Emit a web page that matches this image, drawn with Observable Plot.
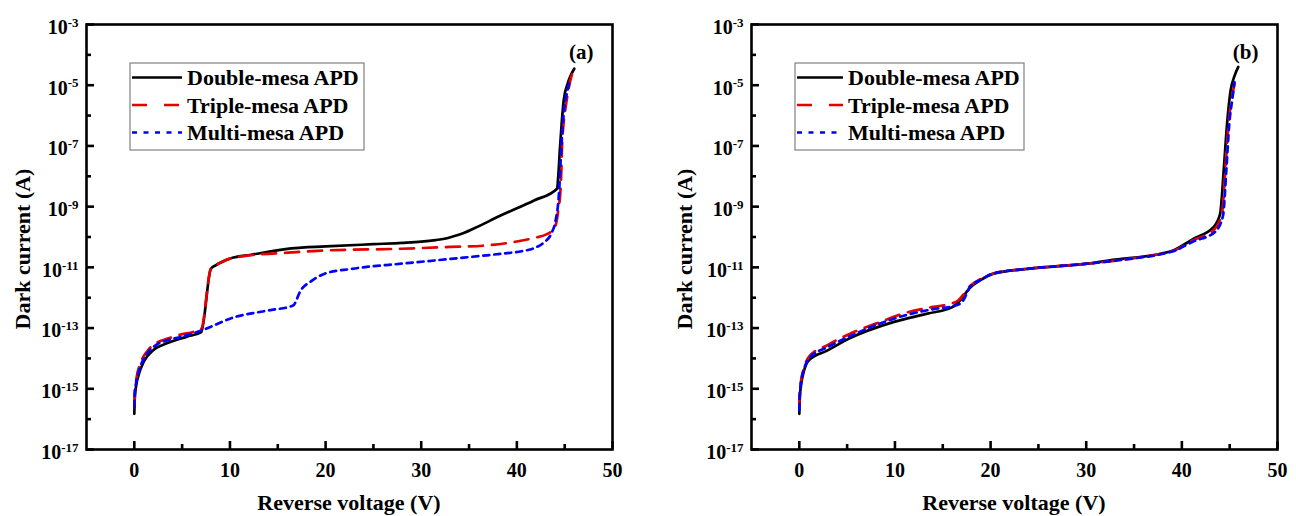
<!DOCTYPE html>
<html><head><meta charset="utf-8">
<script src="https://cdn.jsdelivr.net/npm/d3@7"></script>
<script src="https://cdn.jsdelivr.net/npm/@observablehq/plot@0.6"></script>
<style>
html,body{margin:0;padding:0;background:#fff;}
#wrap{position:relative;width:1296px;height:516px;overflow:hidden;background:#fff;}
.panel{position:absolute;top:0;}
</style></head><body><div id="wrap"></div>
<script>
// ---------- shared labels / ticks ----------
const seriesNames = ["Double-mesa APD", "Triple-mesa APD", "Multi-mesa APD"];
const seriesColors = ["#000000", "#e60000", "#0000ff"];
const seriesDash = [null, "14,9", "6,5"];
const legendDash = [null, "15,17", "5,6.5"];
const xTicks = [0, 10, 20, 30, 40, 50];
const xMinor = [5, 15, 25, 35, 45];
const yTicks = [1e-17, 1e-15, 1e-13, 1e-11, 1e-9, 1e-7, 1e-5, 1e-3];
const yMinor = [1e-16, 1e-14, 1e-12, 1e-10, 1e-8, 1e-6, 1e-4];
const xTitle = "Reverse voltage (V)";
const yTitle = "Dark current (A)";
const panelTags = ["(a)", "(b)"];

// ---------- panel (a) ----------
const aDoubleV = [0, 0.05, 0.2, 0.5, 1.0, 2.0, 3.0, 4.2, 5.5, 7.0, 8.0, 8.5, 9.1, 10.1, 12.2, 16.4, 20, 25, 28, 30, 31.5, 32.8, 34, 35.5, 38.3, 41.8, 44.2, 44.35, 44.5, 44.7, 44.9, 45.3, 45.6, 46.0];
const aDoubleI = [1.5e-16, 5.0e-16, 1.3e-15, 3.2e-15, 7.9e-15, 1.9e-14, 2.8e-14, 3.9e-14, 5.2e-14, 7.4e-14, 8.9e-12, 1.17e-11, 1.48e-11, 2.0e-11, 2.6e-11, 4.2e-11, 4.9e-11, 5.8e-11, 6.4e-11, 7.0e-11, 7.9e-11, 9.3e-11, 1.2e-10, 1.9e-10, 5.1e-10, 1.6e-9, 3.9e-9, 1.26e-8, 7.9e-8, 6.3e-7, 3.2e-6, 1.1e-5, 2.0e-5, 3.5e-5];
const aTripleV = [0, 0.05, 0.2, 0.6, 1.4, 2.5, 3.5, 4.6, 7.0, 8.0, 8.5, 9.1, 10.1, 12.2, 16.4, 20, 27.9, 33, 36.6, 40, 41.8, 43.2, 44.0, 44.3, 44.6, 44.75, 44.9, 45.1, 45.6, 45.8];
const aTripleI = [3.2e-16, 6.3e-16, 2.0e-15, 6.3e-15, 1.8e-14, 3.5e-14, 4.5e-14, 5.8e-14, 9.5e-14, 8.9e-12, 1.17e-11, 1.48e-11, 2.0e-11, 2.5e-11, 3.1e-11, 3.6e-11, 4.1e-11, 4.7e-11, 5.2e-11, 7.1e-11, 9.3e-11, 1.26e-10, 2.2e-10, 6.5e-10, 5.6e-9, 1.5e-7, 6.3e-7, 1.9e-6, 1.45e-5, 2.5e-5];
const aMultiV = [0, 0.05, 0.2, 0.6, 1.2, 2.3, 3.5, 5.0, 7.0, 10.5, 14.0, 16.6, 17.4, 18.5, 19.9, 22.7, 27.9, 33.1, 38.3, 40.5, 41.8, 42.8, 43.6, 44.05, 44.4, 44.65, 44.9, 45.3, 45.6];
const aMultiI = [2.5e-16, 7.9e-16, 1.6e-15, 5.0e-15, 1.26e-14, 2.8e-14, 4.0e-14, 5.2e-14, 8.3e-14, 2.3e-13, 3.8e-13, 5.5e-13, 1.74e-12, 3.5e-12, 6.2e-12, 8.9e-12, 1.32e-11, 1.9e-11, 2.8e-11, 3.4e-11, 4.3e-11, 6.5e-11, 1.3e-10, 3.5e-10, 2.6e-9, 9.1e-8, 1.15e-6, 6.8e-6, 1.6e-5];

// ---------- panel (b) ----------
const bDoubleV = [0, 0.05, 0.2, 0.5, 0.97, 2.9, 5.2, 9.9, 13.4, 16.0, 16.8, 17.9, 18.9, 20.3, 23.8, 30.1, 33.0, 37.8, 39.1, 41.2, 43.3, 44.0, 44.4, 44.7, 45.1, 45.5, 45.9];
const bDoubleI = [1.5e-16, 5.0e-16, 1.45e-15, 4.0e-15, 8.5e-15, 1.8e-14, 4.5e-14, 1.6e-13, 3.0e-13, 4.9e-13, 8.1e-13, 2.2e-12, 3.7e-12, 6.2e-12, 8.9e-12, 1.32e-11, 1.8e-11, 2.8e-11, 3.6e-11, 8.7e-11, 2.1e-10, 5.8e-10, 2.0e-8, 4.2e-7, 6.8e-6, 2.0e-5, 4.0e-5];
const bTripleV = [0, 0.05, 0.2, 0.5, 1.0, 3.0, 5.2, 8.0, 11.3, 14.0, 15.8, 16.6, 17.9, 18.9, 20.3, 23.8, 30.1, 34.3, 37.8, 39.1, 41.2, 43.4, 44.2, 44.6, 44.9, 45.3, 45.6];
const bTripleI = [2.5e-16, 7.9e-16, 2.0e-15, 5.0e-15, 1.12e-14, 2.8e-14, 6.3e-14, 1.4e-13, 3.3e-13, 5.0e-13, 6.3e-13, 8.1e-13, 2.5e-12, 4.0e-12, 6.3e-12, 8.9e-12, 1.32e-11, 1.86e-11, 2.8e-11, 3.5e-11, 7.9e-11, 1.78e-10, 6.3e-10, 3.2e-8, 6.3e-7, 5.0e-6, 1.6e-5];
const bMultiV = [0, 0.05, 0.2, 0.5, 1.0, 3.0, 5.2, 8.0, 11.0, 14.0, 16.2, 17.0, 17.9, 18.9, 20.3, 23.8, 30.1, 34.3, 37.8, 39.1, 41.2, 43.5, 44.3, 44.65, 44.95, 45.3, 45.5];
const bMultiI = [2.0e-16, 6.3e-16, 1.78e-15, 4.5e-15, 1.0e-14, 2.4e-14, 5.2e-14, 1.26e-13, 2.6e-13, 4.2e-13, 5.4e-13, 7.1e-13, 2.4e-12, 3.8e-12, 6.3e-12, 8.9e-12, 1.32e-11, 1.86e-11, 2.7e-11, 3.4e-11, 7.1e-11, 1.5e-10, 5.0e-10, 1.6e-8, 5.0e-7, 4.0e-6, 1.26e-5];

function rows(V, I) { return V.map((v, i) => ({V: v, I: I[i]})); }

const panels = [
  {tag: panelTags[0], left: 0, marginLeft: 86, marginRight: 36, yTitleX: 22, legendW: 234, lineLen: 50,
   series: [rows(aDoubleV, aDoubleI), rows(aTripleV, aTripleI), rows(aMultiV, aMultiI)]},
  {tag: panelTags[1], left: 648, marginLeft: 103, marginRight: 19, yTitleX: 36, legendW: 229, lineLen: 46,
   series: [rows(bDoubleV, bDoubleI), rows(bTripleV, bTripleI), rows(bMultiV, bMultiI)]}
];

const W = 648, H = 516, MT = 24, MB = 67;
const FONT = "'Liberation Serif', 'Times New Roman', Times, serif";
const MAJOR = 8, MINOR = 5;

for (const p of panels) {
  const fw = W - p.marginLeft - p.marginRight;  // frame width
  const fh = H - MT - MB;                         // frame height
  const marks = [
    Plot.axisX(xTicks, {tickSize: 0, tickPadding: 13, fontSize: 20, fontWeight: "bold", label: null}),
    Plot.axisY(yTicks, {tickSize: 0, tickPadding: 8, dy: 3, fontSize: 20, fontWeight: "bold", label: null,
      tickFormat: d => String(Math.round(Math.log10(d)))}),
    // inward tick marks: rules spanning the frame, inset down to a short stub at the axis
    Plot.ruleX(xTicks, {x: d => d, insetTop: fh - MAJOR, stroke: "#000", strokeWidth: 2.6}),
    Plot.ruleX(xMinor, {x: d => d, insetTop: fh - MINOR, stroke: "#000", strokeWidth: 2.6}),
    Plot.ruleY(yTicks, {y: d => d, insetRight: fw - MAJOR, stroke: "#000", strokeWidth: 2.6}),
    Plot.ruleY(yMinor, {y: d => d, insetRight: fw - MINOR, stroke: "#000", strokeWidth: 2.6})
  ];
  p.series.forEach((data, i) => {
    marks.push(Plot.line(data, {x: "V", y: "I", stroke: seriesColors[i], strokeWidth: 2.7, curve: "monotone-x",
      strokeDasharray: seriesDash[i] || undefined, strokeLinejoin: "round"}));
  });
  marks.push(Plot.frame({strokeWidth: 2.6}));
  marks.push(Plot.text([p.tag], {text: d => d, frameAnchor: "top-right", dx: -19, dy: 20,
    textAnchor: "end", lineAnchor: "top", fontSize: 21, fontWeight: "bold"}));

  const svg = Plot.plot({
    width: W, height: H,
    marginLeft: p.marginLeft, marginRight: p.marginRight, marginTop: MT, marginBottom: MB,
    style: {fontFamily: FONT, fontWeight: "bold", fontSize: "20px", background: "transparent", color: "#000", overflow: "visible"},
    x: {domain: [-5, 50]},
    y: {type: "log", domain: [1e-17, 1e-3]},
    marks
  });

  const s = d3.select(svg);
  const x0 = p.marginLeft, x1 = W - p.marginRight;

  // superscript exponents on the y tick labels
  s.selectAll('g[aria-label="y-axis tick label"] text').each(function () {
    const e = this.textContent;
    const t = d3.select(this);
    t.text(null);
    t.append("tspan").text("10");
    t.append("tspan").attr("dy", "-0.55em").attr("font-size", "13px").text(e);
  });

  // axis titles
  s.append("text").attr("x", (x0 + x1) / 2).attr("y", 510).attr("text-anchor", "middle")
    .attr("font-size", 22).attr("font-weight", "bold").attr("font-family", FONT).text(xTitle);
  s.append("text").attr("transform", `translate(${p.yTitleX},249) rotate(-90)`).attr("text-anchor", "middle")
    .attr("dy", "0.35em").attr("font-size", 22).attr("font-weight", "bold").attr("font-family", FONT).text(yTitle);

  // legend
  const lx = x0 + 44, ly = 63, lh = 87;
  const lg = s.append("g").attr("aria-label", "legend");
  lg.append("rect").attr("x", lx).attr("y", ly).attr("width", p.legendW).attr("height", lh)
    .attr("fill", "#fff").attr("stroke", "#808080").attr("stroke-width", 1.2);
  seriesNames.forEach((name, i) => {
    const yy = ly + 14.5 + i * 27.5;
    lg.append("line").attr("x1", lx + 2).attr("x2", lx + 2 + p.lineLen).attr("y1", yy).attr("y2", yy)
      .attr("stroke", seriesColors[i]).attr("stroke-width", 2.7).attr("stroke-dasharray", legendDash[i]);
    lg.append("text").attr("x", lx + p.lineLen + 7).attr("y", yy).attr("dy", "0.36em").attr("text-anchor", "start")
      .attr("font-size", 22).attr("font-weight", "bold").attr("font-family", FONT).text(name);
  });

  const div = document.createElement("div");
  div.className = "panel";
  div.style.left = p.left + "px";
  div.appendChild(svg);
  document.getElementById("wrap").appendChild(div);
}
</script></body></html>
